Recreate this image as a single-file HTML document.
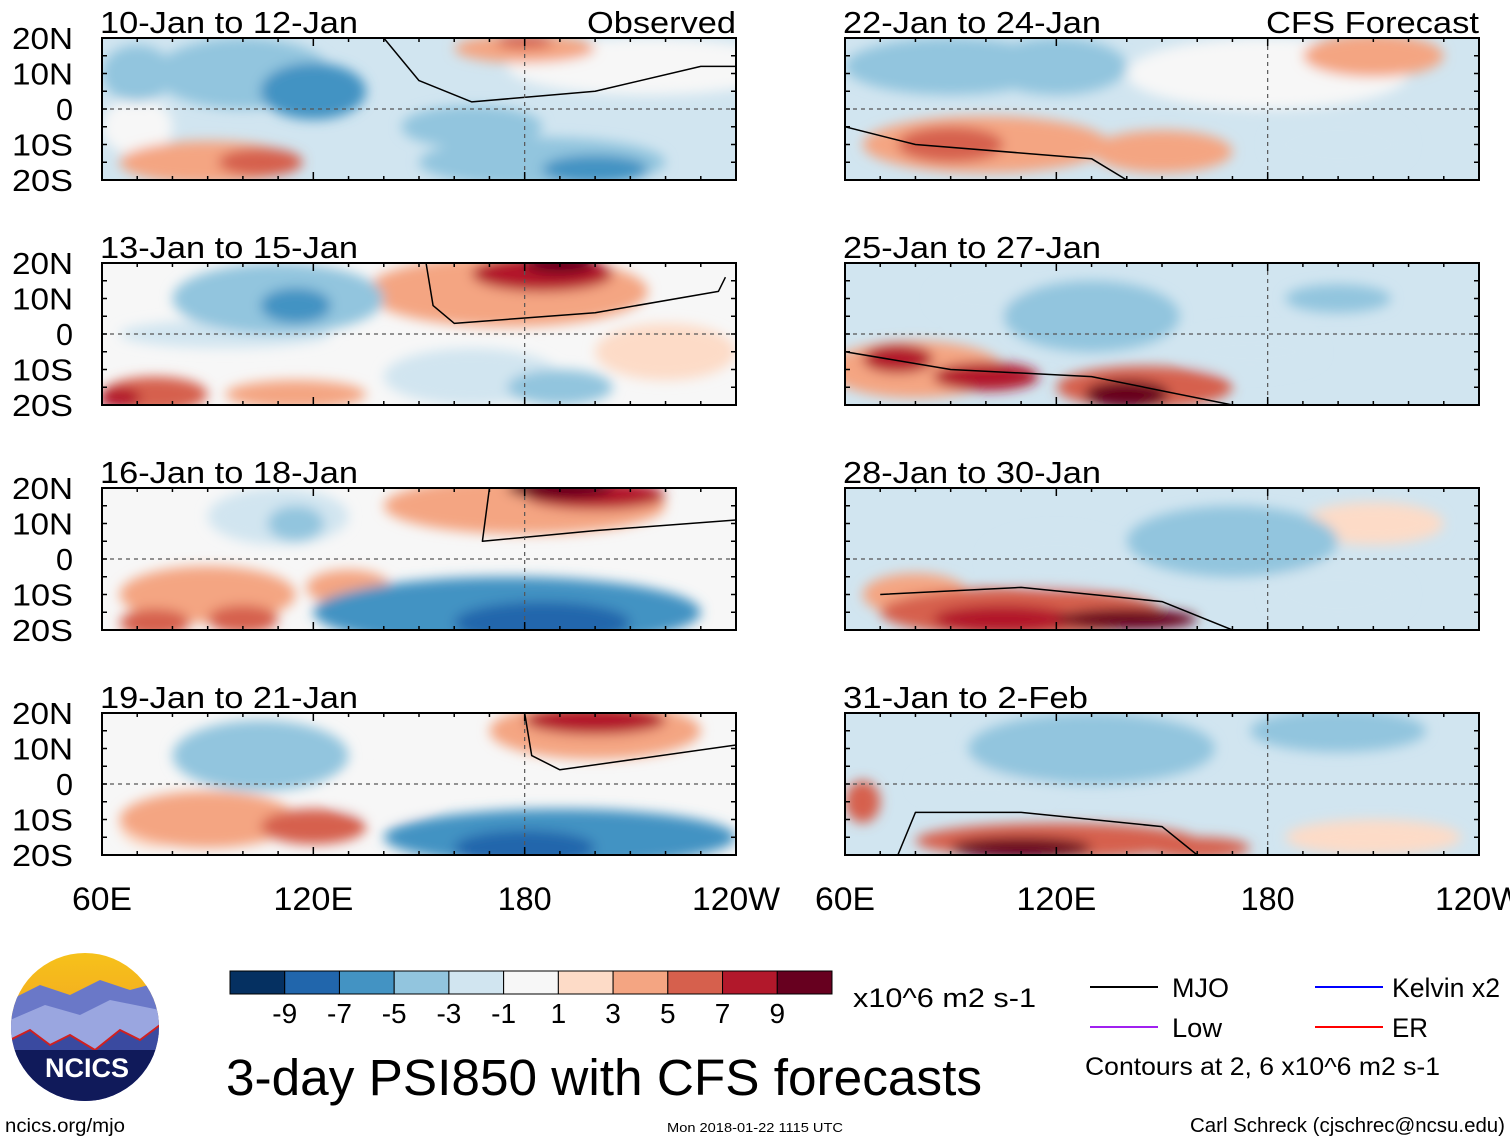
<!DOCTYPE html>
<html><head><meta charset="utf-8">
<style>
body{margin:0;background:#fff;width:1510px;height:1142px;overflow:hidden;font-family:"Liberation Sans",sans-serif}
svg{position:absolute;left:0;top:0}
</style></head>
<body>
<svg id="fig" width="1510" height="1142" xmlns="http://www.w3.org/2000/svg">
<defs>
<filter id="blur" x="-20%" y="-50%" width="140%" height="200%"><feGaussianBlur stdDeviation="6"/></filter>
<linearGradient id="sky" x1="0" y1="0" x2="0" y2="1"><stop offset="0" stop-color="#f6c21a"/><stop offset="1" stop-color="#f08a2a"/></linearGradient>
</defs>
</svg>
<script>
const titles=["10-Jan to 12-Jan","13-Jan to 15-Jan","16-Jan to 18-Jan","19-Jan to 21-Jan","22-Jan to 24-Jan","25-Jan to 27-Jan","28-Jan to 30-Jan","31-Jan to 2-Feb"];
const baseVals=[-2,0,0,-1,-2,-2,-2,-2];
const blobs0=[[100,10,25,10,-4],[120,5,15,8,-6],[215,12,40,8,0],[180,17,20,4,4],[180,19,8,2,6],[185,-15,35,7,-5],[200,-17,15,4,-7],[90,-15,25,6,3],[105,-15,12,4,6],[165,-5,20,6,-4],[70,-5,10,8,0],[70,10,10,8,-4]];
const blobs1=[[175,12,40,10,4],[185,17,20,5,7],[190,20,10,3,9],[110,10,30,10,-4],[115,8,10,5,-6],[165,-12,25,8,-3],[190,-15,15,5,-5],[75,-17,15,5,5],[65,-18,6,3,8],[115,-17,20,4,3],[220,-5,20,8,2],[95,0,30,4,-2]];
const blobs2=[[175,-15,55,10,-6],[185,-18,25,6,-9],[210,-15,20,6,-5],[180,15,40,8,4],[200,18,20,4,7],[190,20,15,3,9],[90,-10,25,8,3],[75,-18,10,4,6],[100,-17,10,4,5],[130,-8,12,5,4],[110,12,20,8,-3],[115,10,8,5,-5]];
const blobs3=[[190,-15,50,8,-6],[180,-18,20,5,-9],[200,15,30,8,4],[200,18,20,4,7],[105,8,25,10,-4],[90,-10,25,8,3],[120,-12,15,5,5],[75,-12,10,6,2],[140,-3,15,6,0]];
const blobs4=[[90,12,30,8,-4],[120,12,20,8,-5],[180,10,40,10,-1],[100,-10,35,8,4],[90,-10,15,5,6],[150,-12,20,6,4],[210,15,20,6,3],[200,-10,20,8,-3]];
const blobs5=[[80,-10,25,8,4],[75,-7,10,4,7],[100,-12,15,4,7],[145,-15,25,6,6],[140,-17,12,4,9],[130,5,25,10,-4],[100,10,15,6,-3],[200,10,15,4,-4],[175,-5,20,6,-3]];
const blobs6=[[110,-15,40,7,5],[105,-17,20,4,8],[140,-17,20,3,9],[80,-10,15,6,4],[170,5,30,10,-4],[120,0,20,8,-3],[210,10,20,6,2],[200,-10,20,8,-2]];
const blobs7=[[130,10,35,10,-5],[200,15,25,6,-5],[120,-16,40,5,6],[110,-18,20,3,9],[160,-18,15,3,6],[65,-5,5,6,6],[210,-15,25,5,2],[100,0,20,6,-2]];
const allBlobs=[blobs0,blobs1,blobs2,blobs3,blobs4,blobs5,blobs6,blobs7];
const mjoLines=[
 [[140,20],[150,8],[165,2],[200,5],[230,12],[240,12]],
 [[152,20],[154,8],[160,3],[200,6],[235,12],[237,16]],
 [[170,20],[168,5],[200,8],[240,11]],
 [[180,20],[182,8],[190,4],[240,11]],
 [[60,-5],[80,-10],[130,-14],[140,-20]],
 [[60,-5],[90,-10],[130,-12],[170,-20]],
 [[70,-10],[110,-8],[150,-12],[170,-20]],
 [[75,-20],[80,-8],[110,-8],[150,-12],[160,-20]]];
const cbColors=["#053061","#2166ac","#4393c3","#92c5de","#d1e5f0","#f7f7f7","#fddbc7","#f4a582","#d6604d","#b2182b","#67001f"];
const cbLabels=["-9","-7","-5","-3","-1","1","3","5","7","9"];
const yLabels=["20N","10N","0","10S","20S"];
const yLats=[20,10,0,-10,-20];
const xLabels=["60E","120E","180","120W"];
const xLons=[60,120,180,240];

const S=document.getElementById('fig');const NS="http://www.w3.org/2000/svg";
function el(t,a,p){const e=document.createElementNS(NS,t);for(const k in a)e.setAttribute(k,a[k]);(p||S).appendChild(e);return e;}
function color(v){const th=[-9,-7,-5,-3,-1,1,3,5,7,9];let i=0;while(i<10&&v>=th[i])i++;return cbColors[i];}
const W=634,H=142,lefts=[102,845],tops=[38,263,488,713];
for(let p=0;p<8;p++){
  const L=lefts[p<4?0:1],T=tops[p%4];
  const X=lon=>L+(lon-60)*W/180, Y=lat=>T+(20-lat)*H/40;
  const g=el('g',{});
  
  
  const cp=el('clipPath',{id:'c'+p},g);el('rect',{x:L,y:T,width:W,height:H},cp);
  const f=el('g',{'clip-path':'url(#c'+p+')'},g);
  el('rect',{x:L,y:T,width:W,height:H,fill:color(baseVals[p])},f);
  const bg=el('g',{filter:'url(#blur)'},f);
  allBlobs[p].slice().sort((a,b)=>Math.abs(a[4])-Math.abs(b[4])).forEach(b=>{
    const e=el('ellipse',{cx:X(b[0]),cy:Y(b[1]),rx:b[2]*W/180,ry:b[3]*H/40,fill:color(b[4])},bg);
    
    
  });
  const ml=el('polyline',{points:mjoLines[p].map(q=>X(q[0])+','+Y(q[1])).join(' '),fill:'none',stroke:'#000','stroke-width':1.5,'stroke-linejoin':'round'},f);
  
  
  el('line',{x1:L,x2:L+W,y1:Y(0),y2:Y(0),stroke:'#555','stroke-dasharray':'4,4','stroke-width':1.2},g);
  el('line',{x1:X(180),x2:X(180),y1:T,y2:T+H,stroke:'#555','stroke-dasharray':'4,4','stroke-width':1.2},g);
  el('rect',{x:L,y:T,width:W,height:H,fill:'none',stroke:'#000','stroke-width':2},g);
  for(let lon=60;lon<=240;lon+=10){const s=lon%60==0?8:4;el('line',{x1:X(lon),x2:X(lon),y1:T,y2:T+s,stroke:'#000','stroke-width':1.5},g);el('line',{x1:X(lon),x2:X(lon),y1:T+H,y2:T+H-s,stroke:'#000','stroke-width':1.5},g);}
  for(let lat=-20;lat<=20;lat+=5){el('line',{x1:L,x2:L+5,y1:Y(lat),y2:Y(lat),stroke:'#000','stroke-width':1.5},g);el('line',{x1:L+W,x2:L+W-5,y1:Y(lat),y2:Y(lat),stroke:'#000','stroke-width':1.5},g);}
  const tl=titles[p].length==16?258:245;
  const t=el('text',{x:L-2,y:T-5,'font-size':31,textLength:tl,lengthAdjust:'spacingAndGlyphs'},g);t.textContent=titles[p];
  
  if(p%4==0){const h=el('text',{x:L+W,y:T-5,'font-size':31,'text-anchor':'end',textLength:p==0?149:213,lengthAdjust:'spacingAndGlyphs'},g);h.textContent=p==0?'Observed':'CFS Forecast';}
  if(p<4){yLabels.forEach((s,i)=>{const y=el('text',{x:73,y:Y(yLats[i])+11,'font-size':31,'text-anchor':'end',textLength:s.length>1?61:17,lengthAdjust:'spacingAndGlyphs'},g);y.textContent=s;
    });}
  if(p%4==3){const xl=[60,80,54,88];xLabels.forEach((s,i)=>{const x=el('text',{x:X(xLons[i]),y:910,'font-size':32,'text-anchor':'middle',textLength:xl[i],lengthAdjust:'spacingAndGlyphs'},g);x.textContent=s;
    });}
}
const cb=el('g',{});
const cw=602/11;
cbColors.forEach((c,i)=>el('rect',{x:230+i*cw,y:971,width:cw,height:23,fill:c,stroke:'#000','stroke-width':1},cb));
cbLabels.forEach((s,i)=>{const t=el('text',{x:230+(i+1)*cw,y:1023,'font-size':28,'text-anchor':'middle'},cb);t.textContent=s;});
function txt(x,y,s,fs,name,anchor,len){const a={x:x,y:y,'font-size':fs,'text-anchor':anchor||'start'};if(len){a.textLength=len;a.lengthAdjust='spacingAndGlyphs';}
  const t=el('text',a);t.textContent=s;
  return t;}
txt(853,1007,'x10^6 m2 s-1',27,'colorbar-units','start',183);
txt(226,1095,'3-day PSI850 with CFS forecasts',51,'figure-title','start',756);
txt(5,1132,'ncics.org/mjo',19,'source-url','start',120);
txt(755,1132,'Mon 2018-01-22 1115 UTC',13,'timestamp','middle',176);
txt(1505,1132,'Carl Schreck (cjschrec@ncsu.edu)',20,'author-credit','end',315);
const lg=[[1090,987,'#000','MJO',1172,57],[1090,1027,'#a020f0','Low',1172,50],[1315,987,'#0000ff','Kelvin x2',1392,108],[1315,1027,'#ff0000','ER',1392,36]];
lg.forEach(l=>{el('line',{x1:l[0],x2:l[0]+68,y1:l[1],y2:l[1],stroke:l[2],'stroke-width':2});txt(l[4],l[1]+10,l[3],27,'legend-entry','start',l[5]);});
txt(1085,1075,'Contours at 2, 6 x10^6 m2 s-1',25,'contour-note','start',355);
const lo=el('g',{});
const lc=el('clipPath',{id:'lc'},lo);el('circle',{cx:85,cy:1027,r:74},lc);
const lg2=el('g',{'clip-path':'url(#lc)'},lo);
el('rect',{x:10,y:952,width:150,height:150,fill:'url(#sky)'},lg2);
el('path',{d:'M10 1000 L40 985 L70 995 L100 980 L130 990 L160 982 L160 1102 L10 1102Z',fill:'#6a78c8'},lg2);
el('path',{d:'M10 1020 L45 1005 L80 1015 L110 1000 L160 1010 L160 1102 L10 1102Z',fill:'#9aa6e0'},lg2);
el('path',{d:'M10 1040 L30 1030 L50 1045 L70 1035 L95 1050 L120 1030 L140 1040 L160 1025 L160 1102 L10 1102Z',fill:'#3a4aa0',stroke:'#d02020','stroke-width':2},lg2);
el('rect',{x:10,y:1050,width:150,height:60,fill:'#101a5a'},lg2);
const nt=el('text',{x:87,y:1077,'font-size':27,'font-weight':'bold',fill:'#fff','text-anchor':'middle'},lo);nt.textContent='NCICS';
</script>
</body></html>
